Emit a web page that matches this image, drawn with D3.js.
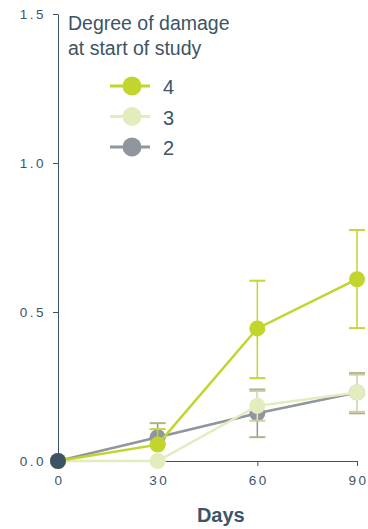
<!DOCTYPE html>
<html>
<head>
<meta charset="utf-8">
<script src="https://cdn.jsdelivr.net/npm/d3@7"></script>
<style>
  body { margin: 0; background: #fff; font-family: Arimo, "Liberation Sans", Arial, sans-serif; }
  .axis text { fill: #3d5466; font-size: 13.5px; letter-spacing: 2.5px; }
  .axis path, .axis line { stroke: #3d5466; }
</style>
</head>
<body>
<div id="chart"></div>
<script>
// data
var days = [0, 30, 60, 90];
var seriesNames = ["4", "3", "2"];
var mean4 = [0, 0.055, 0.445, 0.61];
var upper4 = [0, 0.107, 0.605, 0.775];
var lower4 = [0, 0.055, 0.278, 0.446];
var mean3 = [0, 0, 0.185, 0.23];
var upper3 = [0, 0, 0.235, 0.29];
var lower3 = [0, 0, 0.135, 0.165];
var mean2 = [0, 0.08, 0.16, 0.23];
var upper2 = [0, 0.127, 0.24, 0.295];
var lower2 = [0, 0.08, 0.08, 0.16];
var yTicks = [0, 0.5, 1.0, 1.5];
var xTicks = [0, 30, 60, 90];

var colors = { "4": "#c2d52c", "3": "#e3ecbd", "2": "#8f969d" };
var capColors = { "4": "#c9d23a", "3": "#cfcf9e", "2": "#b0b08e" };

var series = [
    { name: "2", mean: mean2, upper: upper2, lower: lower2 },
    { name: "3", mean: mean3, upper: upper3, lower: lower3 },
    { name: "4", mean: mean4, upper: upper4, lower: lower4 }
];

var margin = { top: 14, right: 11, bottom: 68, left: 58 };
var width = 368 - margin.left - margin.right;
var height = 529 - margin.top - margin.bottom;

var svg = d3.select("#chart").append("svg")
    .attr("width", 368)
    .attr("height", 529)
    .append("g")
    .attr("transform", "translate(" + margin.left + "," + margin.top + ")");

var x = d3.scaleLinear().domain([0, 90]).range([0, width]);
var y = d3.scaleLinear().domain([0, 1.5]).range([height, 0]);

// axes
svg.append("g")
    .attr("class", "axis")
    .call(d3.axisLeft(y).tickValues(yTicks).tickFormat(d3.format(".1f")).tickSize(5).tickSizeOuter(0))
    .call(function (g) { g.selectAll("text").attr("dx", "-4"); });

svg.append("g")
    .attr("class", "axis")
    .attr("transform", "translate(0," + height + ")")
    .call(d3.axisBottom(x).tickValues(xTicks).tickSize(5).tickSizeOuter(0))
    .call(function (g) { g.selectAll("text").attr("dy", "1.15em").attr("dx", "1"); });

svg.append("text")
    .attr("x", x(49))
    .attr("y", height + 61)
    .attr("text-anchor", "middle")
    .attr("fill", "#3d5466")
    .attr("font-size", "20px")
    .attr("font-weight", "bold")
    .text("Days");

// lines
var line = d3.line()
    .x(function (d, i) { return x(days[i]); })
    .y(function (d) { return y(d); });

series.forEach(function (s) {
    var c = colors[s.name];
    var g = svg.append("g");

    // error bars
    days.forEach(function (day, i) {
        if (i === 0) return;
        var cx = x(day);
        g.append("line")
            .attr("x1", cx).attr("x2", cx)
            .attr("y1", y(s.upper[i])).attr("y2", y(s.lower[i]))
            .attr("stroke", c).attr("stroke-width", 1.5);
        [s.upper[i], s.lower[i]].forEach(function (v) {
            g.append("line")
                .attr("x1", cx - 8).attr("x2", cx + 8)
                .attr("y1", y(v)).attr("y2", y(v))
                .attr("stroke", capColors[s.name]).attr("stroke-width", 2);
        });
    });

    g.append("path")
        .datum(s.mean)
        .attr("d", line)
        .attr("fill", "none")
        .attr("stroke", c)
        .attr("stroke-width", 2.5);

    g.selectAll("circle")
        .data(s.mean)
        .enter().append("circle")
        .attr("cx", function (d, i) { return x(days[i]); })
        .attr("cy", function (d) { return y(d); })
        .attr("r", 8)
        .attr("fill", c);
});

// shared starting point
svg.append("circle")
    .attr("cx", x(days[0]))
    .attr("cy", y(mean4[0]))
    .attr("r", 8)
    .attr("fill", "#3d5466");

// legend
var legend = svg.append("g").attr("transform", "translate(10,0)");
legend.append("text")
    .attr("fill", "#3d5466")
    .attr("font-size", "19.5px")
    .selectAll("tspan")
    .data(["Degree of damage", "at start of study"])
    .enter().append("tspan")
    .attr("x", 0)
    .attr("y", function (d, i) { return 16 + i * 25; })
    .text(function (d) { return d; });

seriesNames.forEach(function (name, i) {
    var ly = 72 + i * 30.5;
    var row = legend.append("g").attr("transform", "translate(0," + ly + ")");
    row.append("line")
        .attr("x1", 42).attr("x2", 82)
        .attr("stroke", colors[name]).attr("stroke-width", 3);
    row.append("circle")
        .attr("cx", 64).attr("r", 9.5)
        .attr("fill", colors[name]);
    row.append("text")
        .attr("x", 95).attr("y", 8)
        .attr("fill", "#3d5466")
        .attr("font-size", "20px")
        .text(name);
});
</script>
</body>
</html>
